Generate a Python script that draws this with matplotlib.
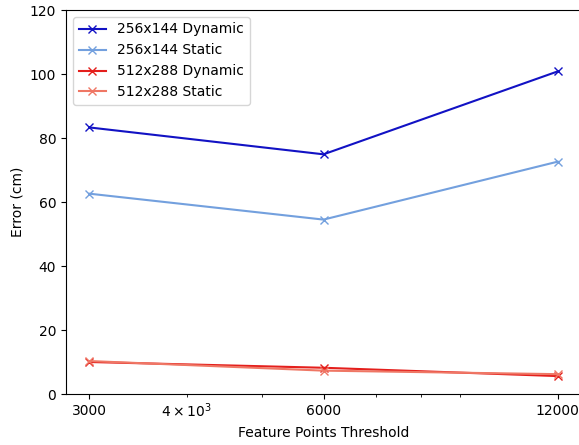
import matplotlib
matplotlib.use("Agg")
import matplotlib.pyplot as plt
from matplotlib.ticker import ScalarFormatter

thresholds = [3000, 6000, 12000]

err_256_dynamic = [83.3, 74.9, 100.8]
err_256_static = [62.6, 54.5, 72.6]
err_512_dynamic = [10.0, 8.2, 5.6]
err_512_static = [10.3, 7.3, 6.2]

series = [
    ("256x144 Dynamic", err_256_dynamic, "#1212c4"),
    ("256x144 Static", err_256_static, "#73a0de"),
    ("512x288 Dynamic", err_512_dynamic, "#e41f1c"),
    ("512x288 Static", err_512_static, "#ef7765"),
]

fig = plt.figure(figsize=(5.79, 4.45), dpi=100)
# right spine sits on the figure edge, so the last tick label is clipped
ax = fig.add_axes([66 / 579, 51 / 445, 515 / 579, 384 / 445])

for label, values, color in series:
    ax.plot(thresholds, values, marker="x", color=color, label=label)

ax.set_xscale("log")
ax.set_xticks(thresholds)
ax.xaxis.set_major_formatter(ScalarFormatter())
ax.set_ylim(0, 120)
ax.set_xlabel("Feature Points Threshold")
ax.set_ylabel("Error (cm)")
ax.legend(loc="upper left")

fig.savefig("out.png", dpi=100)
